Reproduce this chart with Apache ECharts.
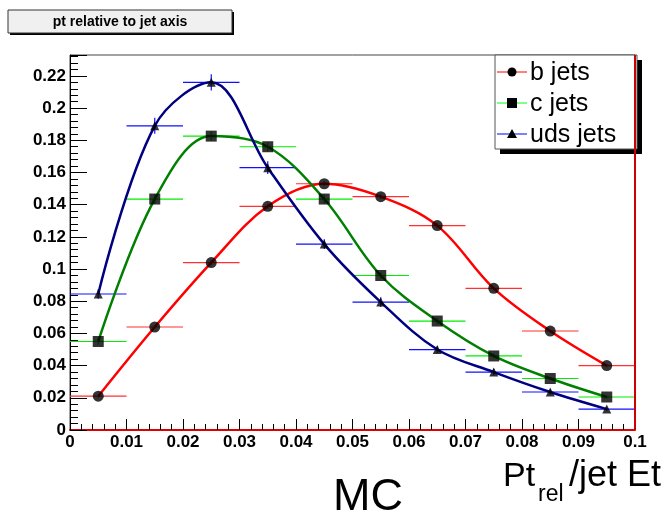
<!DOCTYPE html>
<html>
<head>
<meta charset="utf-8">
<script src="https://cdn.jsdelivr.net/npm/echarts@6/dist/echarts.min.js"></script>
<style>
  html, body { margin: 0; padding: 0; background: #fff; }
  #chart { width: 670px; height: 520px; }
</style>
</head>
<body>
<div id="chart"></div>
<script>
// bin centres of Pt_rel / jet Et
const binCenters = [0.005, 0.015, 0.025, 0.035, 0.045, 0.055, 0.065, 0.075, 0.085, 0.095];
const binWidth = 0.01;
// normalised distributions
const bJets = [0.021, 0.064, 0.104, 0.139, 0.153, 0.145, 0.127, 0.088, 0.0615, 0.040];
const cJets = [0.055, 0.1435, 0.1826, 0.176, 0.1435, 0.096, 0.0677, 0.046, 0.032, 0.0205];
const udsJets = [0.0845, 0.189, 0.216, 0.163, 0.1155, 0.0795, 0.050, 0.036, 0.0236, 0.013];
// vertical (statistical) errors
const bErr = [0.001, 0.001, 0.0015, 0.0015, 0.0015, 0.0015, 0.0015, 0.001, 0.001, 0.001];
const cErr = [0.002, 0.003, 0.003, 0.003, 0.003, 0.002, 0.002, 0.0015, 0.001, 0.001];
const udsErr = [0.003, 0.005, 0.005, 0.004, 0.003, 0.003, 0.002, 0.002, 0.0015, 0.001];
const seriesNames = ["b jets", "c jets", "uds jets"];
const xMax = 0.1;

const chart = echarts.init(document.getElementById("chart"));
const FONT = "Liberation Sans, Arial, Helvetica, sans-serif";

function errorBars(name, vals, errs, color) {
  return {
    name: name,
    type: "custom",
    z: 1,
    data: binCenters.map((x, i) => [x, vals[i], errs[i]]),
    renderItem: (params, api) => {
      const x = api.value(0), y = api.value(1), e = api.value(2);
      const a = api.coord([x - binWidth / 2, y]);
      const b = api.coord([x + binWidth / 2, y]);
      const c = api.coord([x, y - e]);
      const d = api.coord([x, y + e]);
      return {
        type: "group",
        children: [
          { type: "line", shape: { x1: a[0], y1: a[1], x2: b[0], y2: b[1] }, style: { stroke: color, lineWidth: 1.2 } },
          { type: "line", shape: { x1: c[0], y1: c[1], x2: d[0], y2: d[1] }, style: { stroke: color, lineWidth: 1.2 } },
        ],
      };
    },
  };
}

function curve(name, vals, color) {
  return {
    name: name,
    type: "line",
    z: 2,
    smooth: 0.35,
    showSymbol: false,
    lineStyle: { color: color, width: 2.5 },
    data: binCenters.map((x, i) => [x, vals[i]]),
  };
}

function markers(name, vals, symbol, size) {
  return {
    name: name,
    type: "scatter",
    z: 3,
    symbol: symbol,
    symbolSize: size,
    itemStyle: { color: "#000" },
    data: binCenters.map((x, i) => [x, vals[i]]),
  };
}

// legend drawn like the ROOT TLegend box
const legX = 495, legY = 55, legW = 142, legH = 94, rowH = 31;
const legendRows = [
  { name: seriesNames[0], color: "#ff0000", symbol: "circle" },
  { name: seriesNames[1], color: "#00ff00", symbol: "rect" },
  { name: seriesNames[2], color: "#0000ff", symbol: "triangle" },
];
const legendGraphic = [
  { type: "rect", shape: { x: legX + 5, y: legY + 5, width: legW, height: legH }, style: { fill: "#000" } },
  { type: "rect", shape: { x: legX, y: legY, width: legW, height: legH }, style: { fill: "#fff", stroke: "#555", lineWidth: 1 } },
];
legendRows.forEach((r, i) => {
  const cy = legY + 17 + i * rowH;
  legendGraphic.push({ type: "line", shape: { x1: legX + 2, y1: cy, x2: legX + 32, y2: cy }, style: { stroke: r.color, lineWidth: 1 } });
  if (r.symbol === "circle") {
    legendGraphic.push({ type: "circle", shape: { cx: legX + 17, cy: cy, r: 4.5 }, style: { fill: "#000" } });
  } else if (r.symbol === "rect") {
    legendGraphic.push({ type: "rect", shape: { x: legX + 12, y: cy - 5, width: 10, height: 10 }, style: { fill: "#000" } });
  } else {
    legendGraphic.push({ type: "polygon", shape: { points: [[legX + 17, cy - 5], [legX + 22, cy + 4], [legX + 12, cy + 4]] }, style: { fill: "#000" } });
  }
  legendGraphic.push({
    type: "text", x: legX + 35, y: cy + 1,
    style: { text: r.name, font: "25px " + FONT, fill: "#000", verticalAlign: "middle" },
  });
});

const bCurve = curve(seriesNames[0], bJets, "#ff0000");
// red right-hand frame edge
bCurve.markLine = {
  silent: true,
  symbol: "none",
  label: { show: false },
  lineStyle: { color: "#cc0000", width: 2, type: "solid" },
  data: [{ xAxis: xMax }],
};

const option = {
  backgroundColor: "#fff",
  animation: false,
  grid: { left: 70, right: 35, top: 55, bottom: 90, show: true, borderColor: "#444", borderWidth: 1 },
  xAxis: {
    type: "value",
    min: 0,
    max: xMax,
    interval: 0.01,
    splitLine: { show: true, lineStyle: { color: "rgba(0,0,0,0)" } },
    axisLine: { show: true, lineStyle: { color: "#e00000", width: 2 } },
    axisTick: { show: true, inside: true, length: 11, lineStyle: { color: "#000", width: 1 } },
    minorTick: { show: true, splitNumber: 5, length: 6, lineStyle: { color: "#000", width: 1 } },
    axisLabel: { color: "#000", fontFamily: FONT, fontWeight: "bold", fontSize: 17, margin: 4 },
  },
  yAxis: {
    type: "value",
    min: 0,
    max: 0.233,
    interval: 0.02,
    splitLine: { show: true, lineStyle: { color: "rgba(0,0,0,0)" } },
    axisLine: { show: true, lineStyle: { color: "#000", width: 1 } },
    axisTick: { show: true, inside: true, length: 17, lineStyle: { color: "#000", width: 1 } },
    minorTick: { show: true, splitNumber: 5, length: 8, lineStyle: { color: "#000", width: 1 } },
    axisLabel: {
      color: "#000", fontFamily: FONT, fontWeight: "bold", fontSize: 17, margin: 4,
      formatter: (v) => {
        const k = v / 0.02;
        return Math.abs(k - Math.round(k)) < 1e-6 ? String(+v.toFixed(2)) : "";
      },
    },
  },
  series: [
    errorBars(seriesNames[0], bJets, bErr, "#ff3030"),
    errorBars(seriesNames[1], cJets, cErr, "#00ee00"),
    errorBars(seriesNames[2], udsJets, udsErr, "#1010ff"),
    bCurve,
    curve(seriesNames[1], cJets, "#008000"),
    curve(seriesNames[2], udsJets, "#000080"),
    markers(seriesNames[0], bJets, "circle", 11),
    markers(seriesNames[1], cJets, "rect", 11),
    markers(seriesNames[2], udsJets, "triangle", 9),
  ],
  graphic: [
    // title box
    { type: "rect", shape: { x: 10, y: 12, width: 224, height: 23 }, style: { fill: "#000" } },
    { type: "rect", shape: { x: 8, y: 10, width: 224, height: 23 }, style: { fill: "#f0f0f0", stroke: "#333", lineWidth: 1 } },
    {
      type: "text", x: 120, y: 22,
      style: { text: "pt relative to jet axis", font: "bold 14px " + FONT, fill: "#000", align: "center", verticalAlign: "middle" },
    },
    // x axis title
    { type: "text", x: 503, y: 494, style: { text: "Pt", font: "34px " + FONT, fill: "#000", verticalAlign: "bottom" } },
    { type: "text", x: 538, y: 506, style: { text: "rel", font: "23px " + FONT, fill: "#000", verticalAlign: "bottom" } },
    { type: "text", x: 569, y: 494, style: { text: "/jet Et", font: "36px " + FONT, fill: "#000", verticalAlign: "bottom" } },
    // big label
    { type: "text", x: 368, y: 520, style: { text: "MC", font: "45px " + FONT, fill: "#000", align: "center", verticalAlign: "bottom" } },
  ].concat(legendGraphic),
};

chart.setOption(option);
</script>
</body>
</html>
